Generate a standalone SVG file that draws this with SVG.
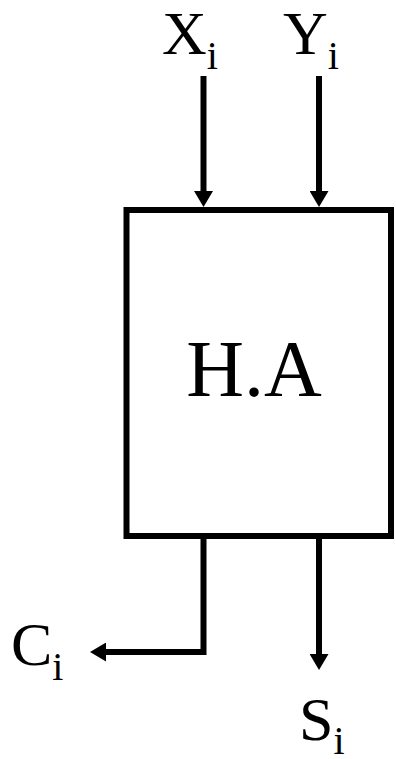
<svg xmlns="http://www.w3.org/2000/svg" width="396" height="759" viewBox="0 0 396 759">
  <style>
    .wire { fill: none; stroke: #000; stroke-width: 6; stroke-linejoin: miter; }
    .box { fill: #fff; stroke: #000; stroke-width: 6; }
    text { font-family: "Times New Roman", Times, "Liberation Serif", "DejaVu Serif", "Noto Serif", serif; fill: #000; }
    .lbl { font-size: 62px; }
    .sub { font-size: 40px; }
    .title { font-size: 80px; text-anchor: middle; }
  </style>
  <defs>
    <marker id="head" viewBox="0 0 16 19" refX="0" refY="9.5" markerWidth="16" markerHeight="19" markerUnits="userSpaceOnUse" orient="auto">
      <path d="M0,0 L16,9.5 L0,19 Z" fill="#000"/>
    </marker>
  </defs>

  <!-- half adder block -->
  <g id="half-adder">
    <rect class="box" x="126.5" y="210" width="264.5" height="326"/>
    <text class="title" x="254" y="396">H.A</text>
  </g>

  <!-- signal wires -->
  <g id="connectors">
    <path class="wire" d="M203.5,76 V191" marker-end="url(#head)"/>
    <path class="wire" d="M319,76 V191" marker-end="url(#head)"/>
    <path class="wire" d="M203.5,539 V652 H106" marker-end="url(#head)"/>
    <path class="wire" d="M319,539 V654" marker-end="url(#head)"/>
  </g>

  <g id="input-x">
    <text class="lbl" x="162" y="54">X<tspan class="sub" dy="15">i</tspan></text>
  </g>
  <g id="input-y">
    <text class="lbl" x="283" y="54">Y<tspan class="sub" dy="15">i</tspan></text>
  </g>
  <g id="output-c">
    <text class="lbl" x="11" y="665">C<tspan class="sub" dy="15">i</tspan></text>
  </g>
  <g id="output-s">
    <text class="lbl" x="299" y="740">S<tspan class="sub" dy="14">i</tspan></text>
  </g>
</svg>
